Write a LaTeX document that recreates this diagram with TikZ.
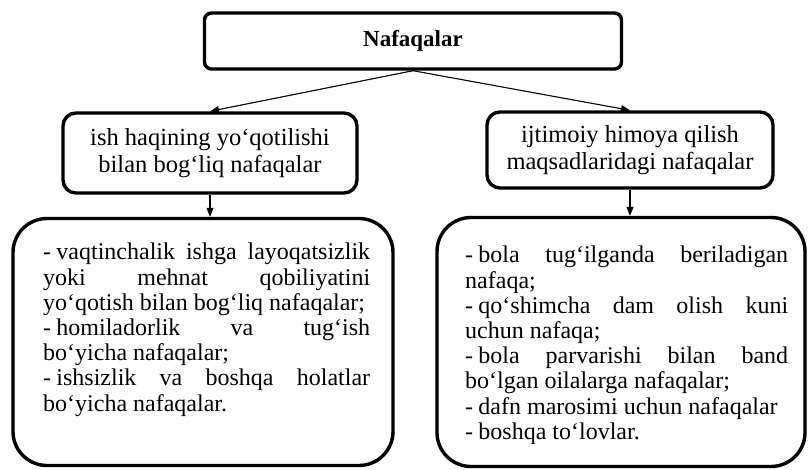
\documentclass[tikz,border=0pt]{standalone}
\usepackage{fontspec}
\setmainfont{Liberation Serif}
\usetikzlibrary{arrows.meta}
\newcommand{\itm}{-\hspace{0.22em}}

\begin{document}
\begin{tikzpicture}[x=1pt,y=-1pt,
  box/.style={draw, line width=3.4pt, rounded corners=#1, inner sep=0pt, align=center},
  box/.default=8pt,
  arr/.style={-{Triangle[length=9pt,width=7pt]}, line width=1.1pt},
  list/.style={text width=#1, align=justify, inner sep=0pt, anchor=north west,
    font=\fontsize{24}{25.2}\selectfont}]
\useasboundingbox (0,0) rectangle (809,469);

\node [box=7pt, minimum width=417pt, minimum height=56pt,
  font=\fontsize{23}{26}\selectfont\bfseries] (top) at (413,41) {Nafaqalar};

\node [box=13pt, minimum width=294pt, minimum height=80pt,
  font=\fontsize{24.5}{26.5}\selectfont] (lm) at (210,153)
  {ish haqining yo‘qotilishi\\bilan bog‘liq nafaqalar};
\node [box=13pt, minimum width=286pt, minimum height=76pt,
  font=\fontsize{24.5}{26.5}\selectfont] (rm) at (630,150)
  {ijtimoiy himoya qilish\\maqsadlaridagi nafaqalar};

\node [box=34pt, minimum width=380pt, minimum height=247pt] (bl) at (203,342) {};
\node [box=34pt, minimum width=368pt, minimum height=249pt] (br) at (621,342) {};

\node [list=327pt] (blt) at (43,243) {%
\itm vaqtinchalik ishga layoqatsizlik\linebreak
yoki mehnat qobiliyatini\linebreak
yo‘qotish bilan bog‘liq nafaqalar;\par
\itm homiladorlik va tug‘ish\linebreak
bo‘yicha nafaqalar;\par
\itm ishsizlik va boshqa holatlar\linebreak
bo‘yicha nafaqalar.};

\node [list=323pt] (brt) at (465,246) {%
\itm bola tug‘ilganda beriladigan\linebreak
nafaqa;\par
\itm qo‘shimcha dam olish kuni\linebreak
uchun nafaqa;\par
\itm bola parvarishi bilan band\linebreak
bo‘lgan oilalarga nafaqalar;\par
\itm dafn marosimi uchun nafaqalar\par
\itm boshqa to‘lovlar.};

\draw [arr] (top.south) -- (lm.north);
\draw [arr] (top.south) -- (rm.north);
\draw [arr] (lm.south) -- (lm.south |- bl.north);
\draw [arr] (rm.south) -- (rm.south |- br.north);
\end{tikzpicture}
\end{document}
